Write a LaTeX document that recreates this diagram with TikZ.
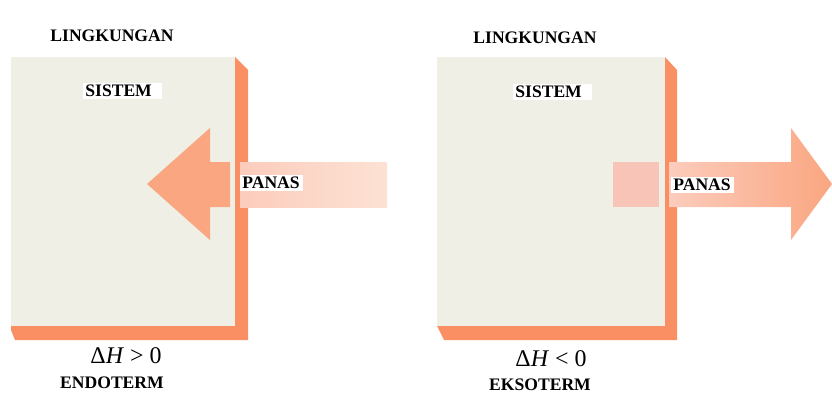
\documentclass[tikz,border=0pt]{standalone}
\usepackage{fontspec}
\setmainfont{Liberation Serif}
\usetikzlibrary{positioning}
\definecolor{facecol}{RGB}{239, 239, 230}
\definecolor{edgecol}{RGB}{249, 143, 98}
\definecolor{heatcol}{RGB}{250, 166, 128}
\definecolor{fadecol}{RGB}{252, 204, 188}
\definecolor{palecol}{RGB}{252, 226, 212}
\definecolor{ghostcol}{RGB}{248, 196, 184}
\tikzset{
  face/.style  = {fill=facecol, draw=none},
  rim/.style   = {fill=edgecol, draw=none},
  heat/.style  = {fill=heatcol, draw=none},
  ghost/.style = {fill=ghostcol, draw=none},
  tag/.style   = {fill=white, inner sep=1.5pt,
                  font=\fontsize{12.5}{14}\selectfont\bfseries},
  kind/.style  = {tag, inner sep=0.5pt},
  delta/.style = {inner sep=1pt, font=\fontsize{17}{18}\selectfont},
}

\begin{document}
\begin{tikzpicture}[x=0.025cm, y=-0.025cm]

  \useasboundingbox (0,0) rectangle (832,394);

  %% ---------------- endoterm ----------------
  \fill[rim] (235,57) -- (248,70) -- (248,340) -- (15,340) -- (11,330)
             -- (11,326) -- (235,326) -- cycle;
  \fill[face] (11,57) rectangle (235,326);

  % heat comes in: the head sits inside the system
  \fill[heat] (147,184) -- (210,128) -- (210,162) -- (230,162)
              -- (230,207) -- (210,207) -- (210,240) -- cycle;
  \shade[left color=fadecol, right color=palecol] (240,162) rectangle (387,207);

  \node[tag] (lingA) at (112,36) {LINGKUNGAN};
  \node[tag, anchor=west, text width=1.85cm, align=left] (sistemA) at (83,91) {SISTEM};
  \node[tag, anchor=west, text width=1.45cm, align=left] (panasA) at (240,183) {PANAS};
  \node[delta] (dhA) at (126,356) {Δ\textit{H} > 0};
  \node[kind] (endo) at (112,383) {ENDOTERM};

  %% ---------------- eksoterm ----------------
  \fill[rim] (665,57) -- (677,70) -- (677,340) -- (444,340) -- (437,326)
             -- (665,326) -- cycle;
  \fill[face] (437,57) rectangle (665,326);

  % heat goes out: only a faint patch is left inside
  \fill[ghost] (613,162) rectangle (659,207);
  \shade[left color=fadecol, right color=heatcol]
        (669,162) -- (791,162) -- (791,128) -- (832,184) -- (791,240)
        -- (791,207) -- (669,207) -- cycle;

  \node[tag] (lingB) at (535,38) {LINGKUNGAN};
  \node[tag, anchor=west, text width=1.85cm, align=left] (sistemB) at (513,92) {SISTEM};
  \node[tag, anchor=west, text width=1.45cm, align=left] (panasB) at (671,185) {PANAS};
  \node[delta] (dhB) at (551,359) {Δ\textit{H} < 0};
  \node[kind] (ekso) at (540,385) {EKSOTERM};

\end{tikzpicture}
\end{document}
